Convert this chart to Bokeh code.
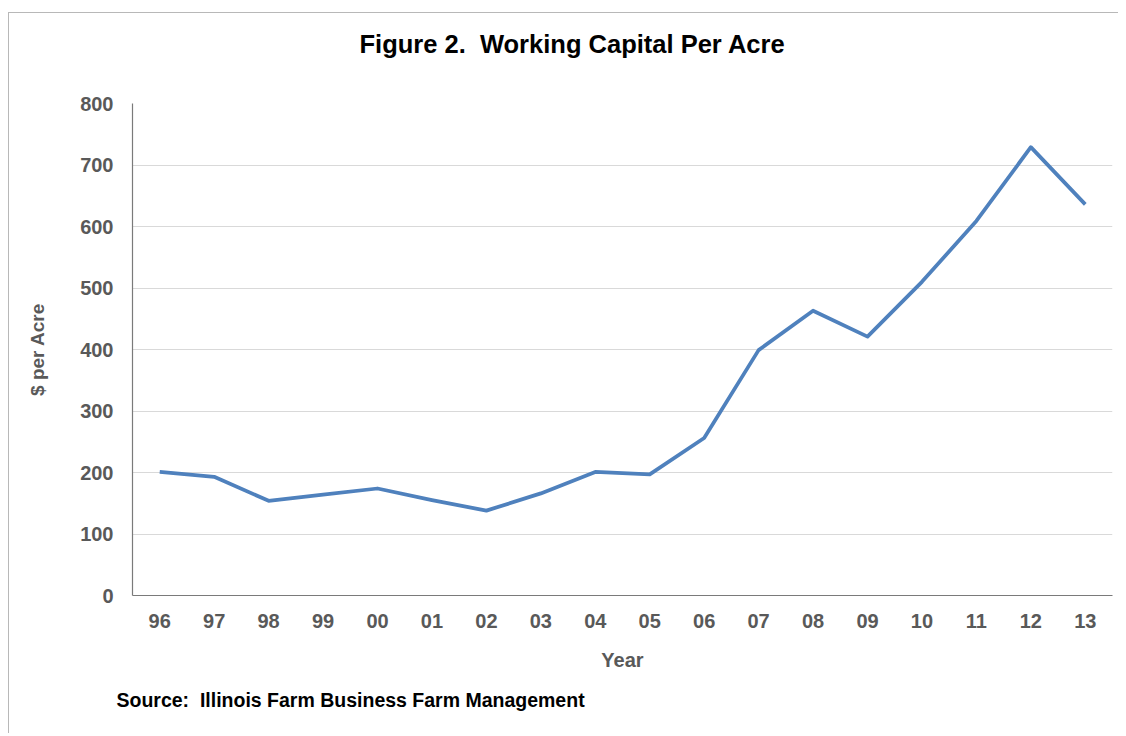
from bokeh.plotting import figure
from bokeh.models import Title, FixedTicker, CategoricalAxis
from bokeh.embed import file_html
from bokeh.resources import INLINE

# ---- data ----
years = ["96", "97", "98", "99", "00", "01", "02", "03", "04", "05",
         "06", "07", "08", "09", "10", "11", "12", "13"]
capital = [201, 193, 154, 164, 174, 155, 138, 166, 201, 197,
           256, 399, 463, 421, 510, 609, 729, 636]
y_ticks = [0, 100, 200, 300, 400, 500, 600, 700, 800]

title_text = "Figure 2.\u00a0 Working Capital Per Acre"
x_label = "Year"
y_label = "$ per Acre"
source_text = "Source:\u00a0 Illinois Farm Business Farm Management"

FONT = "Liberation Sans"
GRAY = "#595959"

p = figure(
    x_range=years, y_range=(0, 800),
    frame_width=980, frame_height=492,
    min_border_left=123, min_border_right=6,
    min_border_top=90, min_border_bottom=138,
    output_backend="svg", toolbar_location=None,
    styles={"margin-top": "12px", "margin-left": "8px",
            "border-top": "1px solid #b8b8b8",
            "border-left": "1px solid #b8b8b8"},
)
p.outline_line_color = None
p.background_fill_color = "white"
p.border_fill_color = "white"

# line
p.line(x=years, y=capital, line_color="#4f81bd", line_width=3.75, line_join="round")

# axes
for ax in (p.xaxis[0], p.yaxis[0]):
    ax.axis_line_color = "#7a7a7a"
    ax.axis_line_width = 1.2
    ax.major_tick_line_color = None
    ax.minor_tick_line_color = None
    ax.major_tick_out = 0
    ax.major_tick_in = 0
    ax.major_label_text_font = FONT
    ax.major_label_text_font_size = "20px"
    ax.major_label_text_font_style = "bold"
    ax.major_label_text_color = GRAY
    ax.axis_label_text_font = FONT
    ax.axis_label_text_font_size = "20px"
    ax.axis_label_text_font_style = "bold"
    ax.axis_label_text_color = GRAY

p.yaxis[0].ticker = FixedTicker(ticks=y_ticks)
p.yaxis[0].major_label_standoff = 19
p.yaxis[0].axis_label = y_label
p.yaxis[0].axis_label_text_font_size = "19px"
p.yaxis[0].axis_label_standoff = 29

p.xaxis[0].major_label_standoff = 18
p.xaxis[0].axis_label = x_label
p.xaxis[0].axis_label_standoff = 18

# grid
p.xgrid.grid_line_color = None
p.ygrid.grid_line_color = "#d9d9d9"
p.ygrid.grid_line_width = 1.2

# invisible spacer between frame and title
spacer = CategoricalAxis(axis_line_color=None, major_tick_line_color=None,
                         minor_tick_line_color=None,
                         major_label_text_alpha=0, major_label_text_font_size="1px",
                         major_label_standoff=0,
                         major_tick_out=41, major_tick_in=0)
p.add_layout(spacer, "above")

# title
p.title.text = title_text
p.title.text_font = FONT
p.title.text_font_size = "25.5px"
p.title.text_font_style = "bold"
p.title.text_color = "black"
p.title.align = "left"
p.title.offset = 227
p.title.standoff = 10

# source note
src = Title(text=source_text, text_font=FONT, text_font_size="19.5px",
            text_font_style="bold", text_color="black",
            align="left", offset=-16, standoff=26)
p.add_layout(src, "below")

open("out.html", "w").write(file_html(p, INLINE))
